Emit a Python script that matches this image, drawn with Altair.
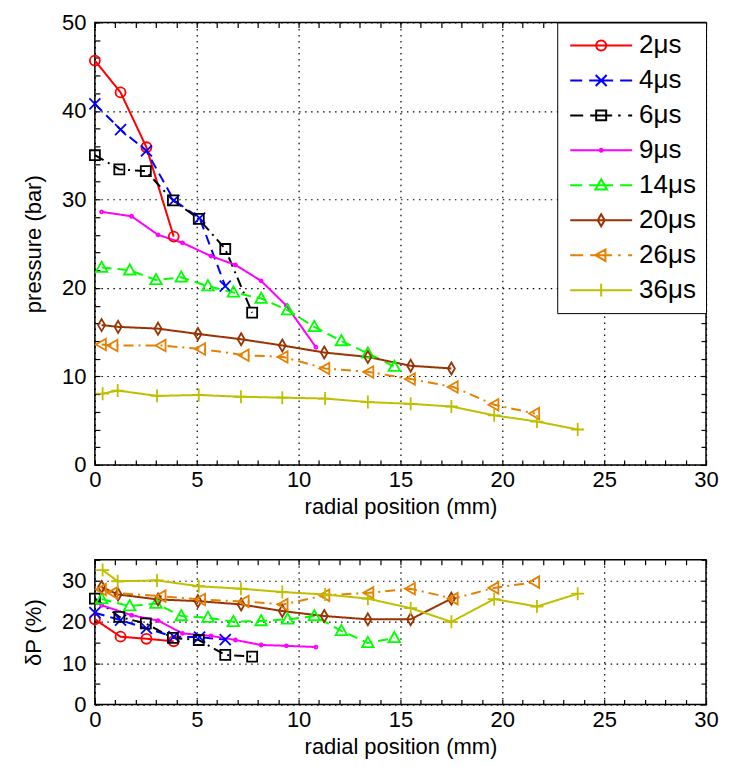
import altair as alt
import pandas as pd

series = ["2μs", "4μs", "6μs", "9μs", "14μs", "20μs", "26μs", "36μs"]
colors = ["#FF0000", "#0000FF", "#000000", "#FF00FF", "#00FF00", "#993300", "#E68000", "#BFBF00"]

x_2 = [0.0, 1.26, 2.53, 3.87]
p_2 = [45.7, 42.1, 35.9, 25.8]
dp_2 = [20.6, 16.4, 15.9, 15.3]

x_4 = [0.0, 1.26, 2.53, 3.88, 5.14, 6.4]
p_4 = [40.8, 37.9, 35.5, 29.9, 27.9, 20.2]
dp_4 = [22.2, 20.4, 18.4, 16.4, 16.3, 15.7]

x_6 = [0.0, 1.2, 2.5, 3.83, 5.1, 6.4, 7.72]
p_6 = [35.0, 33.4, 33.2, 29.9, 27.8, 24.4, 17.2]
dp_6 = [25.6, 21.2, 19.6, 16.1, 15.6, 12.0, 11.6]

x_9 = [0.33, 1.8, 3.1, 4.3, 5.7, 6.9, 8.16, 9.4, 10.85]
p_9 = [28.6, 28.1, 26.0, 25.1, 23.6, 22.6, 20.8, 18.0, 13.3]
dp_9 = [24.0, 21.6, 20.3, 17.2, 16.6, 15.6, 14.4, 14.2, 13.9]

x_14 = [0.33, 1.71, 3.0, 4.24, 5.55, 6.8, 8.16, 9.46, 10.77, 12.1, 13.4, 14.7]
p_14 = [22.3, 22.0, 20.9, 21.2, 20.2, 19.5, 18.8, 17.5, 15.6, 14.0, 12.6, 11.1]
dp_14 = [25.5, 23.8, 24.4, 21.4, 21.0, 20.0, 20.2, 20.6, 21.4, 17.8, 14.9, 16.1]

x_20 = [0.33, 1.14, 3.1, 5.06, 7.18, 9.2, 11.26, 13.4, 15.5, 17.5]
p_20 = [15.8, 15.6, 15.4, 14.8, 14.2, 13.5, 12.7, 12.2, 11.2, 10.9]
dp_20 = [28.4, 26.6, 25.4, 25.0, 24.2, 22.6, 21.4, 20.6, 20.6, 25.6]

x_26 = [0.33, 0.9, 3.26, 5.2, 7.34, 9.25, 11.3, 13.46, 15.5, 17.6, 19.6, 21.6]
p_26 = [13.6, 13.5, 13.5, 13.1, 12.4, 12.2, 10.9, 10.5, 9.7, 8.8, 6.8, 5.8]
dp_26 = [27.8, 27.0, 26.2, 25.4, 24.9, 24.2, 26.4, 27.0, 28.0, 25.6, 28.2, 29.6]

x_36 = [0.38, 1.12, 3.05, 5.1, 7.17, 9.2, 11.3, 13.4, 15.5, 17.5, 19.6, 21.7, 23.7]
p_36 = [8.05, 8.4, 7.8, 7.9, 7.7, 7.6, 7.5, 7.1, 6.9, 6.6, 5.6, 4.9, 4.0]
dp_36 = [32.5, 29.8, 30.0, 28.6, 28.0, 27.2, 26.6, 25.6, 23.3, 20.0, 25.5, 23.7, 26.8]

xs_all = [x_2, x_4, x_6, x_9, x_14, x_20, x_26, x_36]
ps_all = [p_2, p_4, p_6, p_9, p_14, p_20, p_26, p_36]
ds_all = [dp_2, dp_4, dp_6, dp_9, dp_14, dp_20, dp_26, dp_36]

rows = []
for s, xs, ps, ds in zip(series, xs_all, ps_all, ds_all):
    for x, p, d in zip(xs, ps, ds):
        rows.append({"series": s, "x": x, "p": p, "dp": d})
df = pd.DataFrame(rows)

# marker shapes (unit = 5 px at size 100)
m_circle = "M-1,0A1,1 0 1,0 1,0A1,1 0 1,0 -1,0"
m_x = "M-1.1,-1.1L1.1,1.1M-1.1,1.1L1.1,-1.1"
m_square = "M-1,-1H1V1H-1Z"
m_dot = "M-0.3,0A0.3,0.3 0 1,0 0.3,0A0.3,0.3 0 1,0 -0.3,0"
m_tri = "M0,-1.2L1.15,0.85H-1.15Z"
m_diam = "M0,-1.2L0.7,0L0,1.2L-0.7,0Z"
m_tril = "M-1.15,0L0.85,-1.15V1.15Z"
m_plus = "M-1.3,0H1.3M0,-1.3V1.3"
markers = [m_circle, m_x, m_square, m_dot, m_tri, m_diam, m_tril, m_plus]

line_solid = "M-6.2,0H6.2"
line_dash = "M-6.2,0H-3.8M-2.4,0H2.4M3.8,0H6.2"
line_dashdot = "M-6.2,0H-3.6M-2.2,0H2.2M3.4,0H3.9M5.4,0H6.2"
legend_lines = [line_solid, line_dash, line_dashdot, line_solid, line_dash, line_solid, line_dashdot, line_solid]
legend_paths = [l + m for l, m in zip(legend_lines, markers)]

dashes = [[1, 0], [10, 6], [10, 5, 2, 5], [1, 0], [10, 6], [1, 0], [10, 5, 2, 5], [1, 0]]

FONT = "Liberation Sans"
W = 612


def cond(mod):
    return {"condition": {"test": f"datum.value % {mod} === 0", "value": 1}, "value": 0}


def legend_def():
    return alt.Legend(orient="top-right", offset=0, title=None,
                      strokeColor="black", fillColor="white", padding=10,
                      labelFont=FONT, labelFontSize=26, labelColor="black",
                      symbolSize=100, symbolOffset=21, labelOffset=25,
                      rowPadding=9, symbolStrokeWidth=2, symbolOpacity=1)


def make_panel(yfield, ydomain, yvalues, ymajor, ytitle, height, with_legend):
    xscale = alt.Scale(domain=[0, 30], nice=False)
    yscale = alt.Scale(domain=ydomain, nice=False)
    xaxis = alt.Axis(values=list(range(0, 31)), labelExpr="datum.value % 5 === 0 ? datum.label : ''",
                     grid=True, gridOpacity=cond(5), gridDash=[1.5, 4.5], gridColor="black", gridWidth=1.2,
                     tickSize=5, offset=-5, domain=False, title="radial position (mm)",
                     labelFlush=False, labelOverlap=False, labelPadding=5, titlePadding=6)
    yaxis = alt.Axis(values=yvalues, labelExpr=f"datum.value % {ymajor} === 0 ? datum.label : ''",
                     grid=True, gridOpacity=cond(ymajor), gridDash=[1.5, 4.5], gridColor="black", gridWidth=1.2,
                     tickSize=5, offset=-5, domain=False, title=ytitle,
                     labelFlush=False, labelOverlap=False, labelPadding=9, titlePadding=16)
    base = alt.Chart(df)
    color_nl = alt.Color("series:N", scale=alt.Scale(domain=series, range=colors), legend=None)
    lines = base.mark_line(strokeWidth=2).encode(
        x=alt.X("x:Q", scale=xscale, axis=xaxis),
        y=alt.Y(f"{yfield}:Q", scale=yscale, axis=yaxis),
        color=color_nl,
        strokeDash=alt.StrokeDash("series:N", scale=alt.Scale(domain=series, range=dashes), legend=None),
        detail="series:N",
    )
    pts = base.mark_point(filled=False, size=100, strokeWidth=1.8, opacity=1).encode(
        x=alt.X("x:Q", scale=xscale, axis=None),
        y=alt.Y(f"{yfield}:Q", scale=yscale, axis=None),
        color=color_nl,
        shape=alt.Shape("series:N", scale=alt.Scale(domain=series, range=markers), legend=None),
    )
    mirror = base.mark_point(opacity=0).encode(
        x=alt.X("x:Q", scale=xscale, axis=alt.Axis(orient="top", values=list(range(0, 31)), labels=False,
                                                    grid=False, tickSize=5, offset=-5, domain=False, title=None)),
        y=alt.Y(f"{yfield}:Q", scale=yscale, axis=alt.Axis(orient="right", values=yvalues, labels=False,
                                                          grid=False, tickSize=5, offset=-5, domain=False,
                                                          title=None)),
    )
    layers = [lines, pts, mirror]
    if with_legend:
        leg = base.mark_point(filled=False, size=100, opacity=0).encode(
            x=alt.X("x:Q", scale=xscale, axis=None),
            y=alt.Y(f"{yfield}:Q", scale=yscale, axis=None),
            color=alt.Color("series:N", scale=alt.Scale(domain=series, range=colors), legend=legend_def()),
            shape=alt.Shape("series:N", scale=alt.Scale(domain=series, range=legend_paths), legend=legend_def()),
        )
        layers.append(leg)
    return alt.layer(*layers).resolve_scale(
        color="independent", shape="independent", strokeDash="independent"
    ).resolve_axis(x="independent", y="independent").properties(width=W, height=height)


top = make_panel("p", [0, 50], list(range(0, 51, 2)), 10, "pressure (bar)", 443, True)
bottom = make_panel("dp", [0, 35], list(range(0, 36, 5)), 10, "δP (%)", 145, False)

chart = alt.vconcat(top, bottom, spacing=29).resolve_scale(
    color="independent", shape="independent", strokeDash="independent"
).properties(
    padding={"left": 13, "top": 2, "right": 5, "bottom": 5}, background="white"
).configure_view(
    stroke="black", strokeWidth=1.5
).configure_axis(
    labelFont=FONT, labelFontSize=22, labelColor="black", titleFont=FONT, titleFontSize=22,
    titleFontWeight="normal", titleColor="black", tickColor="black", tickWidth=1.2
)

chart.save("out.html", embed_options={"renderer": "svg", "actions": False})
